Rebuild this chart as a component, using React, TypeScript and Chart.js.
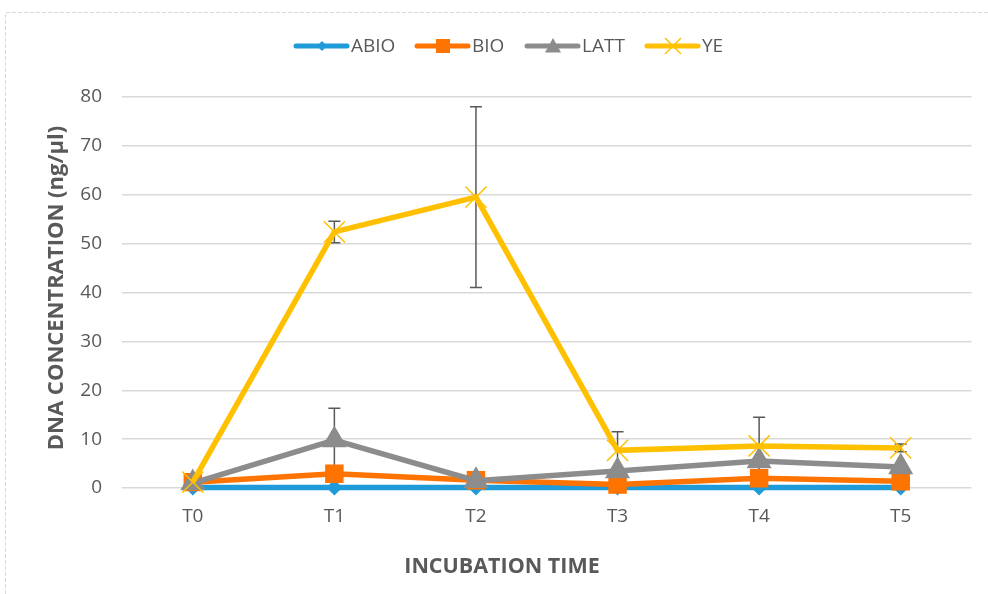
import { useEffect, useRef } from "react";
import { Chart, registerables } from "chart.js";
Chart.register(...registerables);

const categories = ["T0", "T1", "T2", "T3", "T4", "T5"];
const seriesNames = ["ABIO", "BIO", "LATT", "YE"];
const abio = [0.1, 0.1, 0.1, 0.1, 0.1, 0.1];
const bio = [1.2, 2.9, 1.6, 0.7, 2.0, 1.4];
const latt = [1.0, 9.8, 1.5, 3.5, 5.5, 4.3];
const ye = [1.2, 52.4, 59.5, 7.7, 8.6, 8.2];
const yeErr = [0, 2.2, 18.5, 3.8, 5.9, 0.8];
const lattErr = [0, 6.5, 0, 0, 0, 0];
const yMax = 80;
const yStep = 10;

const colors = ["#1F9BDA", "#FF7300", "#8C8C8C", "#FFC000"];
const pointStyles = ["rectRot", "rect", "triangle", "crossRot"];
const pointRadii = [7, 12, 13, 15];
const FONT = "'Open Sans', sans-serif";
const TEXT = "#595959";

function drawMarker(ctx: CanvasRenderingContext2D, style: string, x: number, y: number, s: number, color: string) {
  ctx.save();
  ctx.fillStyle = color;
  ctx.strokeStyle = color;
  ctx.lineWidth = 1.5;
  ctx.beginPath();
  if (style === "rectRot") {
    ctx.moveTo(x, y - s);
    ctx.lineTo(x + s, y);
    ctx.lineTo(x, y + s);
    ctx.lineTo(x - s, y);
    ctx.closePath();
    ctx.fill();
  } else if (style === "rect") {
    ctx.rect(x - s, y - s, 2 * s, 2 * s);
    ctx.fill();
  } else if (style === "triangle") {
    ctx.moveTo(x, y - s);
    ctx.lineTo(x + s, y + s * 0.8);
    ctx.lineTo(x - s, y + s * 0.8);
    ctx.closePath();
    ctx.fill();
  } else {
    ctx.moveTo(x - s, y - s);
    ctx.lineTo(x + s, y + s);
    ctx.moveTo(x + s, y - s);
    ctx.lineTo(x - s, y + s);
    ctx.stroke();
  }
  ctx.restore();
}

const errorBars = {
  id: "errorBars",
  beforeDatasetsDraw(chart: any) {
    const ctx = chart.ctx;
    const y = chart.scales.y;
    const errs: Record<number, number[]> = { 2: lattErr, 3: yeErr };
    ctx.save();
    ctx.strokeStyle = "#595959";
    ctx.lineWidth = 1.5;
    Object.keys(errs).forEach((k) => {
      const di = Number(k);
      const meta = chart.getDatasetMeta(di);
      const data = chart.data.datasets[di].data as number[];
      errs[di].forEach((e, i) => {
        if (!e) return;
        const x = meta.data[i].x;
        const yt = y.getPixelForValue(data[i] + e);
        const yb = y.getPixelForValue(data[i] - e);
        ctx.beginPath();
        ctx.moveTo(x, yt);
        ctx.lineTo(x, yb);
        ctx.moveTo(x - 6, yt);
        ctx.lineTo(x + 6, yt);
        ctx.moveTo(x - 6, yb);
        ctx.lineTo(x + 6, yb);
        ctx.stroke();
      });
    });
    ctx.restore();
  },
};

const decor = {
  id: "decor",
  afterDraw(chart: any) {
    const ctx = chart.ctx;
    ctx.save();
    // dashed frame
    ctx.strokeStyle = "#D9D9D9";
    ctx.lineWidth = 1;
    ctx.setLineDash([4, 2]);
    ctx.beginPath();
    ctx.moveTo(5.5, 594);
    ctx.lineTo(5.5, 12.5);
    ctx.lineTo(988, 12.5);
    ctx.stroke();
    ctx.setLineDash([]);
    // legend
    const legendX = [296, 417, 527, 647];
    const legendSize = [5, 7, 8, 8];
    const ly = 46;
    ctx.font = `19px ${FONT}`;
    ctx.textBaseline = "middle";
    ctx.textAlign = "left";
    seriesNames.forEach((name, i) => {
      const x0 = legendX[i];
      ctx.strokeStyle = colors[i];
      ctx.lineWidth = 5;
      ctx.lineCap = "round";
      ctx.beginPath();
      ctx.moveTo(x0, ly);
      ctx.lineTo(x0 + 51, ly);
      ctx.stroke();
      ctx.lineCap = "butt";
      drawMarker(ctx, pointStyles[i], x0 + 26, ly, legendSize[i], colors[i]);
      ctx.fillStyle = TEXT;
      ctx.fillText(name, x0 + 55, ly + 1);
    });
    // axis titles
    ctx.fillStyle = TEXT;
    ctx.font = `bold 21.5px ${FONT}`;
    ctx.textAlign = "center";
    ctx.textBaseline = "middle";
    ctx.fillText("INCUBATION TIME", 502, 567);
    ctx.font = `bold 22px ${FONT}`;
    ctx.translate(57, 288);
    ctx.rotate(-Math.PI / 2);
    ctx.fillText("DNA CONCENTRATION (ng/µl)", 0, 0);
    ctx.restore();
  },
};

export default function App() {
  const ref = useRef<HTMLCanvasElement>(null);
  useEffect(() => {
    if (!ref.current) return;
    const series = [abio, bio, latt, ye];
    const chart = new Chart(ref.current, {
      type: "line",
      data: {
        labels: categories,
        datasets: series.map((d, i) => ({
          label: seriesNames[i],
          data: d,
          borderColor: colors[i],
          backgroundColor: colors[i],
          borderWidth: 5.5,
          pointStyle: pointStyles[i] as any,
          pointRadius: pointRadii[i],
          pointHoverRadius: pointRadii[i],
          pointBorderWidth: 1.5,
          pointBackgroundColor: colors[i],
          pointBorderColor: colors[i],
          tension: 0,
          clip: false as any,
          order: 3 - i,
        })),
      },
      options: {
        animation: false,
        responsive: false,
        maintainAspectRatio: false,
        layout: { padding: { left: 0, top: 97, right: 12, bottom: 66 } },
        plugins: { legend: { display: false }, tooltip: { enabled: false } },
        scales: {
          x: {
            offset: true,
            grid: { display: false, drawTicks: false },
            border: { display: false },
            ticks: { color: TEXT, font: { family: FONT, size: 19, lineHeight: 2.57 }, padding: 4 },
            afterFit: (s: any) => {
              s.height = 40;
            },
          },
          y: {
            min: 0,
            max: yMax,
            grid: { color: "#D9D9D9", lineWidth: 1.5, drawTicks: false },
            border: { display: false },
            ticks: { stepSize: yStep, color: TEXT, font: { family: FONT, size: 19 }, padding: 20 },
            afterFit: (s: any) => {
              s.width = 122;
            },
          },
        },
      },
      plugins: [errorBars, decor],
    });
    return () => chart.destroy();
  }, []);
  return (
    <div style={{ position: "fixed", left: 0, top: 0, width: 988, height: 594, background: "#fff" }}>
      <canvas ref={ref} width={988} height={594} style={{ width: 988, height: 594, display: "block" }} />
    </div>
  );
}
